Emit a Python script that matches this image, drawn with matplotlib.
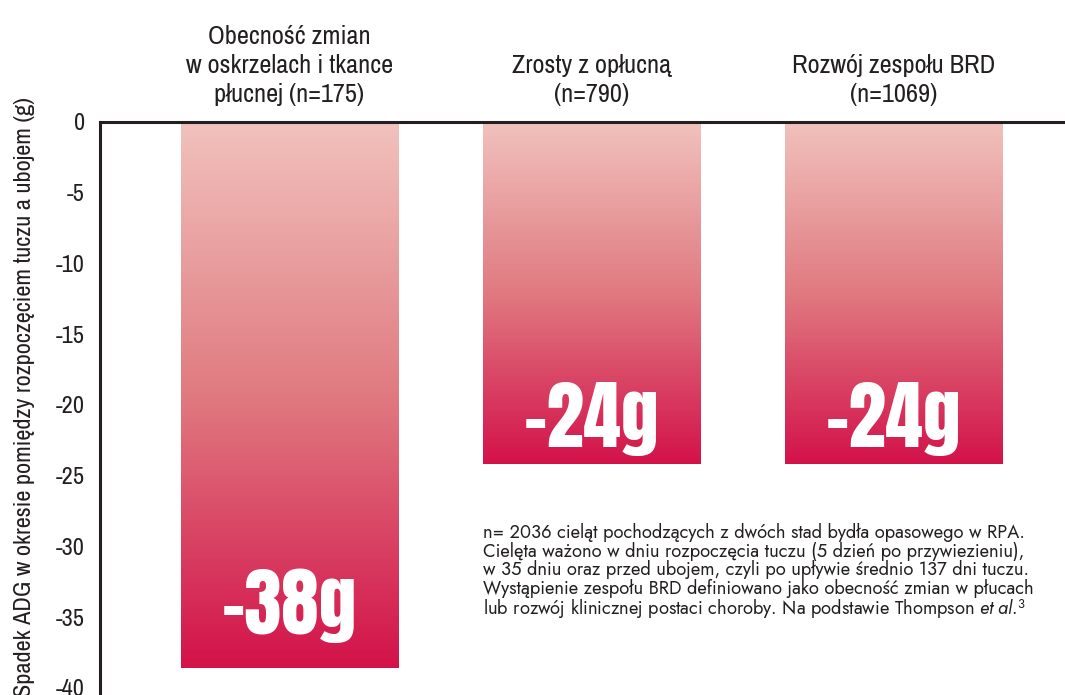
import numpy as np
import matplotlib.pyplot as plt
from matplotlib.colors import LinearSegmentedColormap

# dane
kategorie = ["Obecność zmian\nw oskrzelach i tkance\npłucnej (n=175)",
             "Zrosty z opłucną\n(n=790)",
             "Rozwój zespołu BRD\n(n=1069)"]
spadek_adg = [-38.6, -24.2, -24.2]
etykiety = ["-38g", "-24g", "-24g"]
yticks = [0, -5, -10, -15, -20, -25, -30, -35, -40]

przypis = ("n= 2036 cieląt pochodzących z dwóch stad bydła opasowego w RPA.\n"
           "Cielęta ważono w dniu rozpoczęcia tuczu (5 dzień po przywiezieniu),\n"
           "w 35 dniu oraz przed ubojem, czyli po upływie średnio 137 dni tuczu.\n"
           "Wystąpienie zespołu BRD definiowano jako obecność zmian w płucach\n"
           "lub rozwój klinicznej postaci choroby. Na podstawie Thompson $\\it{et\\ al}$.$^{3}$")

waski = ['Archivo Narrow', 'DejaVu Sans']
gruby = ['Anton', 'DejaVu Sans']
plt.rcParams['font.family'] = waski
plt.rcParams['mathtext.fontset'] = 'custom'
plt.rcParams['mathtext.rm'] = 'Jost'
plt.rcParams['mathtext.it'] = 'Jost:italic'

fig = plt.figure(figsize=(10.65, 6.95), dpi=100)
ax = fig.add_axes([100 / 1065, 0, 965 / 1065, 1 - 122 / 695])

cmap = LinearSegmentedColormap.from_list("grad", ["#f1c2bd", "#e07a80", "#d3124a"])
grad = np.linspace(0, 1, 256).reshape(-1, 1)
szer = 0.72
x = np.arange(len(kategorie))

for xi, v in zip(x, spadek_adg):
    ax.imshow(grad, cmap=cmap, aspect='auto', origin='upper',
              extent=[xi - szer / 2, xi + szer / 2, v, 0], zorder=2)

# etykiety wartości na słupkach
przesun = [2.4, 1.2, 1.2]
for xi, v, t, d in zip(x, spadek_adg, etykiety, przesun):
    ax.text(xi, v + d, t, ha='center', va='baseline', color='white',
            fontsize=54, family=gruby, zorder=3)

# kategorie nad wykresem
for xi, k in zip(x, kategorie):
    ax.text(xi, 1.15, k, ha='center', va='bottom', fontsize=19,
            linespacing=1.32, clip_on=False, color='#231f20')

ax.set_xlim(-0.627, 2.566)
ax.set_ylim(-40.5, 0)
ax.set_yticks(yticks)
ax.set_yticklabels([str(t) for t in yticks], fontsize=17.5, color='#231f20')
ax.set_xticks([])
ax.tick_params(axis='y', length=0, pad=11)
for s in ['right', 'bottom']:
    ax.spines[s].set_visible(False)
for s in ['top', 'left']:
    ax.spines[s].set_linewidth(2.2)
    ax.spines[s].set_color('#231f20')

ax.set_ylabel("Spadek ADG w okresie pomiędzy rozpoczęciem tuczu a ubojem (g)",
              fontsize=17.5, color='#231f20')
ax.yaxis.set_label_coords(-0.067, 0.52)

fig.text(483 / 1065, 1 - 523 / 695, przypis, ha='left', va='top',
         fontsize=13.2, linespacing=0.98, family=['Jost', 'DejaVu Sans'],
         color='#231f20')

fig.savefig("out.png", dpi=100)
